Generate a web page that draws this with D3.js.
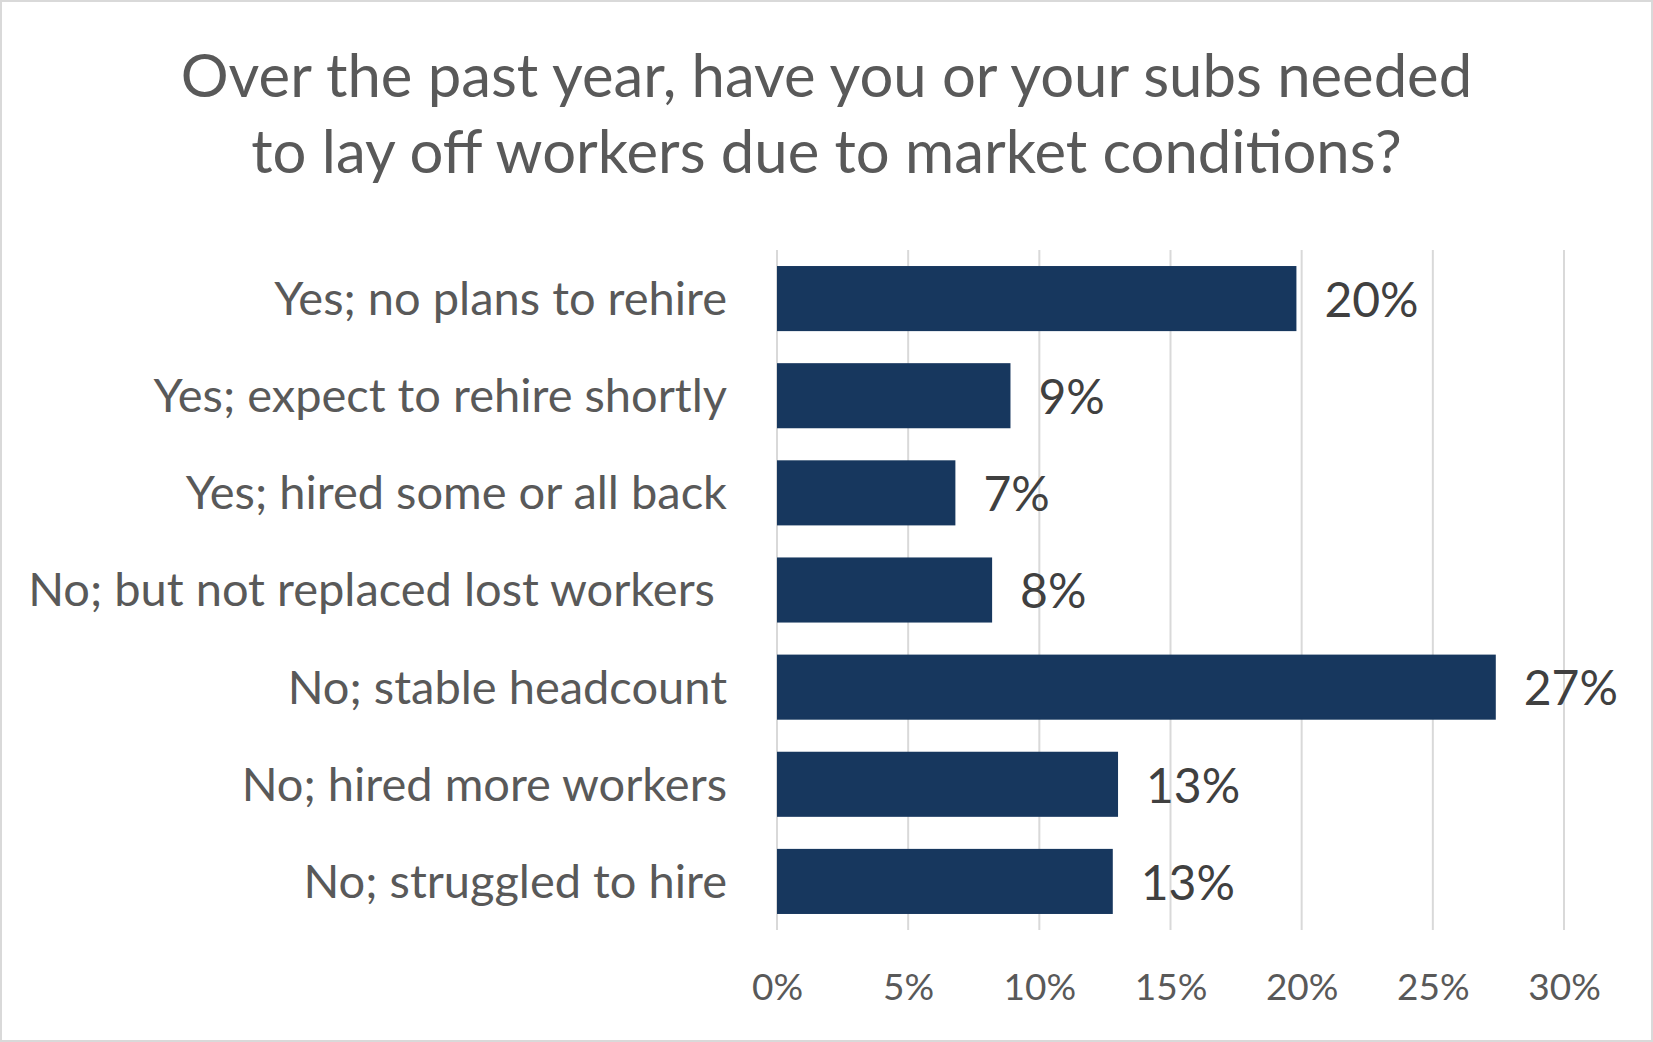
<!DOCTYPE html>
<html>
<head>
<meta charset="utf-8">
<script src="https://cdn.jsdelivr.net/npm/d3@7"></script>
<style>
  body { margin: 0; background: #fff; }
  text { font-family: Lato, "Open Sans", sans-serif; }
</style>
</head>
<body>
<div id="chart"></div>
<script>
// Chart data
const titleLines = ['Over the past year, have you or your subs needed', 'to lay off workers due to market conditions?'];
const categories = [
    'Yes; no plans to rehire',
    'Yes; expect to rehire shortly',
    'Yes; hired some or all back',
    'No; but not replaced lost workers ',
    'No; stable headcount',
    'No; hired more workers',
    'No; struggled to hire'
];
const values = [19.8, 8.9, 6.8, 8.2, 27.4, 13.0, 12.8];
const valueLabels = ['20%', '9%', '7%', '8%', '27%', '13%', '13%'];
const ticks = [0, 5, 10, 15, 20, 25, 30];

const width = 1653;
const height = 1042;
const plot = { left: 777, right: 1564, top: 250, bottom: 930 };

const svg = d3.select('#chart')
    .append('svg')
    .attr('width', width)
    .attr('height', height);

// Outer border
svg.append('rect')
    .attr('x', 1).attr('y', 1)
    .attr('width', width - 2).attr('height', height - 2)
    .attr('fill', '#fff')
    .attr('stroke', '#d9d9d9')
    .attr('stroke-width', 2);

// Title
svg.append('g')
    .selectAll('text')
    .data(titleLines)
    .enter()
    .append('text')
    .attr('x', width / 2)
    .attr('y', (d, i) => 97 + i * 76)
    .attr('text-anchor', 'middle')
    .attr('font-size', 59.8)
    .attr('fill', '#595959')
    .text(d => d);

// Scales
const x = d3.scaleLinear()
    .domain([0, 30])
    .range([plot.left, plot.right]);

const y = d3.scaleBand()
    .domain(categories)
    .range([plot.top, plot.bottom])
    .paddingInner(0.33)
    .paddingOuter(0.165);

// Gridlines
svg.append('g')
    .selectAll('line')
    .data(ticks)
    .enter()
    .append('line')
    .attr('x1', d => x(d)).attr('x2', d => x(d))
    .attr('y1', plot.top).attr('y2', plot.bottom)
    .attr('stroke', '#d9d9d9')
    .attr('stroke-width', 2);

// X axis tick labels
const xAxis = d3.axisBottom(x)
    .tickValues(ticks)
    .tickFormat(d => d + '%')
    .tickSize(0)
    .tickPadding(0);

const xg = svg.append('g')
    .attr('transform', `translate(0, ${plot.bottom})`)
    .call(xAxis);
xg.select('.domain').remove();
xg.selectAll('text')
    .attr('y', 70)
    .attr('dy', 0)
    .attr('font-size', 37)
    .attr('font-family', 'Lato, sans-serif')
    .attr('fill', '#595959');

// Category labels
const yAxis = d3.axisLeft(y).tickSize(0).tickPadding(0);
const yg = svg.append('g')
    .attr('transform', `translate(${plot.left - 50}, 0)`)
    .call(yAxis);
yg.select('.domain').remove();
yg.selectAll('text')
    .attr('font-size', 47)
    .attr('font-family', 'Lato, sans-serif')
    .attr('fill', '#595959')
    .attr('dy', '0.35em')
    .style('white-space', 'pre');

// Bars
svg.append('g')
    .selectAll('rect')
    .data(values)
    .enter()
    .append('rect')
    .attr('x', x(0))
    .attr('y', (d, i) => y(categories[i]))
    .attr('width', d => x(d) - x(0))
    .attr('height', y.bandwidth())
    .attr('fill', '#17375e');

// Data labels
svg.append('g')
    .selectAll('text')
    .data(values)
    .enter()
    .append('text')
    .attr('x', d => x(d) + 28)
    .attr('y', (d, i) => y(categories[i]) + y.bandwidth() / 2)
    .attr('dy', '0.38em')
    .attr('font-size', 48)
    .attr('fill', '#404040')
    .text((d, i) => valueLabels[i]);
</script>
</body>
</html>
